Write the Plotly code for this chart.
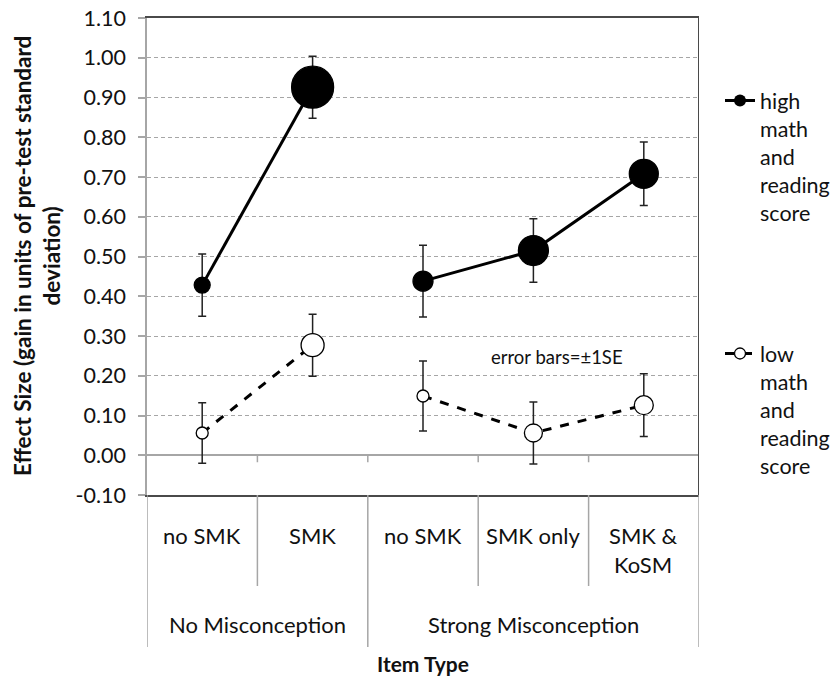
import plotly.graph_objects as go

# ---- data ----
groups = ["No Misconception", "No Misconception",
          "Strong Misconception", "Strong Misconception", "Strong Misconception"]
categories = ["no SMK", "SMK", "no SMK", "SMK only", "SMK &<br>KoSM"]
group_names = ["No Misconception", "Strong Misconception"]

high_values = [0.428, 0.926, 0.438, 0.515, 0.708]
high_se = [0.078, 0.078, 0.090, 0.080, 0.080]
high_sizes = [16, 42, 20, 30, 29]

low_values = [0.056, 0.277, 0.149, 0.056, 0.126]
low_se = [0.076, 0.078, 0.088, 0.078, 0.079]
low_sizes = [12, 23, 12, 18, 19]

y_ticks = [-0.1, 0.0, 0.1, 0.2, 0.3, 0.4, 0.5, 0.6, 0.7, 0.8, 0.9, 1.0, 1.1]
y_tick_labels = ["-0.10", "0.00", "0.10", "0.20", "0.30", "0.40", "0.50",
                 "0.60", "0.70", "0.80", "0.90", "1.00", "1.10"]

# ---- geometry (window pixels; page body margin removed below) ----
W, H = 839, 677
PL, PR, PT, PB = 147, 699, 18, 495          # plot area in window pixels
ML, MT = PL, PT
MR, MB = W - PR, H - PB
PW = PR - PL
PH = PB - PT
FONT = "Lato, 'Open Sans', sans-serif"
TXT = "#111111"


def py(px):  # window pixel y -> paper y
    return (PB - px) / PH


def pxx(px):  # window pixel x -> paper x
    return (px - PL) / PW


xs = list(range(len(categories)))

fig = go.Figure()

series = [
    ("high", high_values, high_se, high_sizes, "solid", "black"),
    ("low", low_values, low_se, low_sizes, "dash", "white"),
]

for name, vals, se, sizes, dash, fill in series:
    # connecting lines within each group
    for g in group_names:
        idx = [i for i, gg in enumerate(groups) if gg == g]
        fig.add_trace(go.Scatter(
            x=[xs[i] for i in idx], y=[vals[i] for i in idx],
            mode="lines", line=dict(color="black", width=3, dash=dash),
            showlegend=False, hoverinfo="skip"))
    fig.add_trace(go.Scatter(
        x=xs, y=vals, mode="markers",
        marker=dict(size=sizes, color=fill, opacity=1,
                    line=dict(color="black", width=1.3)),
        error_y=dict(type="data", array=se, visible=True, color="#222222",
                     thickness=1.5, width=4),
        showlegend=False))

# legend-only traces
fig.add_trace(go.Scatter(
    x=[None], y=[None], mode="lines+markers", name="high<br>math<br>and<br>reading<br>score",
    line=dict(color="black", width=3), marker=dict(size=12, color="black", opacity=1),
    legend="legend"))
fig.add_trace(go.Scatter(
    x=[None], y=[None], mode="lines+markers", name="low<br>math<br>and<br>reading<br>score",
    line=dict(color="black", width=3, dash="dash"),
    marker=dict(size=11, color="white", opacity=1, line=dict(color="black", width=1.3)),
    legend="legend2"))

shapes = []
GRAY = "#a6a6a6"
DARK = "#4a4a4a"
# right border of plot area
shapes.append(dict(type="line", xref="x", yref="paper", x0=4.5, x1=4.5, y0=0, y1=1,
                   line=dict(color=DARK, width=2)))
# small ticks on the zero line at category boundaries
for b in [0.5, 1.5, 2.5, 3.5]:
    shapes.append(dict(type="line", xref="x", yref="y", ysizemode="pixel", yanchor=0,
                       x0=b, x1=b, y0=0, y1=-7, line=dict(color=GRAY, width=1.5)))
# category table below the axis
y_cat_end = py(586)
y_grp_end = py(647)
for i in range(len(categories) + 1):
    b = i - 0.5
    if i == 0 or i == len(categories):
        yend = y_grp_end
    elif groups[i - 1] != groups[i]:
        yend = y_grp_end
    else:
        yend = y_cat_end
    shapes.append(dict(type="line", xref="x", yref="paper", x0=b, x1=b, y0=0, y1=yend,
                       line=dict(color=GRAY, width=1.5)))

annotations = []
for i, c in enumerate(categories):
    annotations.append(dict(x=xs[i], y=py(520), xref="x", yref="paper", text=c,
                            showarrow=False, yanchor="top", xanchor="center",
                            font=dict(family=FONT, size=22, color=TXT)))
for g in group_names:
    idx = [i for i, gg in enumerate(groups) if gg == g]
    cx = (xs[idx[0]] + xs[idx[-1]]) / 2
    annotations.append(dict(x=cx, y=py(624), xref="x", yref="paper", text=g,
                            showarrow=False, yanchor="middle",
                            font=dict(family=FONT, size=22, color=TXT)))
annotations.append(dict(x=0.5, y=py(663), xref="paper", yref="paper", text="<b>Item Type</b>",
                        showarrow=False, yanchor="middle",
                        font=dict(family=FONT, size=21, color=TXT)))
annotations.append(dict(x=pxx(37), y=py(256), xref="paper", yref="paper",
                        text="<b>Effect Size (gain in units of pre-test standard<br>deviation)</b>",
                        textangle=-90, showarrow=False, xanchor="center", yanchor="middle",
                        font=dict(family=FONT, size=22.5, color=TXT)))
annotations.append(dict(x=3.21, y=0.247, xref="x", yref="y", text="error bars=±1SE",
                        showarrow=False, font=dict(family=FONT, size=18.5, color=TXT)))

fig.update_layout(
    width=W, height=H,
    margin=dict(l=ML, r=MR, t=MT, b=MB, autoexpand=False),
    paper_bgcolor="white", plot_bgcolor="white",
    font=dict(family=FONT, color=TXT),
    xaxis=dict(range=[-0.5, 4.5], showticklabels=False, showgrid=False, zeroline=False,
               showline=True, mirror=True, linecolor=DARK, linewidth=2, ticks="",
               automargin=False),
    yaxis=dict(range=[-0.1, 1.1], tickvals=y_ticks, ticktext=y_tick_labels,
               showgrid=True, gridcolor=GRAY, griddash="4px,3px", gridwidth=1,
               zeroline=True, zerolinecolor=GRAY, zerolinewidth=1.5,
               showline=True, linecolor=GRAY, linewidth=1.5,
               ticks="outside", ticklen=7, tickcolor=GRAY, tickwidth=1.5,
               ticklabelstandoff=8, automargin=False, ticklabeloverflow="allow",
               tickfont=dict(family=FONT, size=21.5, color=TXT)),
    legend=dict(x=pxx(720), y=py(80), xanchor="left", yanchor="top", valign="top",
                font=dict(family=FONT, size=21.5, color=TXT), bgcolor="rgba(0,0,0,0)"),
    legend2=dict(x=pxx(720), y=py(333), xanchor="left", yanchor="top", valign="top",
                 font=dict(family=FONT, size=21.5, color=TXT), bgcolor="rgba(0,0,0,0)"),
    shapes=shapes,
    annotations=annotations,
)

fig.write_html("out.html",
               config={"displayModeBar": False},
               post_script="document.body.style.margin='0px';")
